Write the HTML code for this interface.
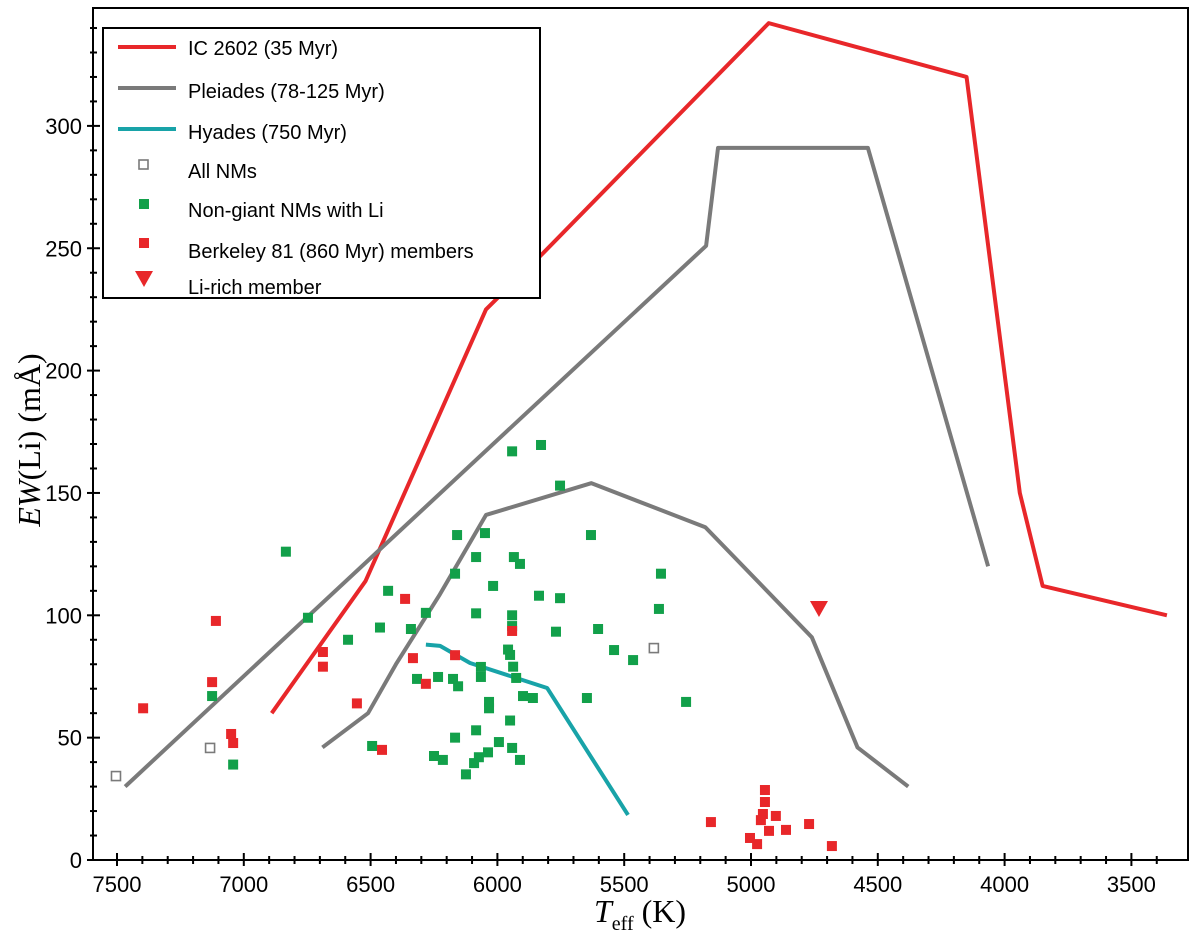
<!DOCTYPE html>
<html><head><meta charset="utf-8"><style>
body{margin:0;background:#fff}
</style></head><body>
<svg id="chart" width="1200" height="936" viewBox="0 0 1200 936" xmlns="http://www.w3.org/2000/svg" font-family="Liberation Sans, Arial, sans-serif">
<rect x="0" y="0" width="1200" height="936" fill="#fff"/>
<g id="axes"></g>
<g id="marks"></g>
<g id="legend">
<rect x="103" y="28" width="437" height="270" fill="#fff" stroke="#000" stroke-width="2"/>
<line x1="118" y1="47" x2="176" y2="47" stroke="#e8272a" stroke-width="4"/>
<text x="188" y="55" font-size="20">IC 2602 (35 Myr)</text>
<line x1="118" y1="88" x2="176" y2="88" stroke="#7a7a7a" stroke-width="4"/>
<text x="188" y="98" font-size="20">Pleiades (78-125 Myr)</text>
<line x1="118" y1="129" x2="176" y2="129" stroke="#18a3a8" stroke-width="4"/>
<text x="188" y="139" font-size="20">Hyades (750 Myr)</text>
<rect x="139" y="160" width="9" height="9" fill="none" stroke="#7a7a7a" stroke-width="1.6"/>
<text x="188" y="178" font-size="20">All NMs</text>
<rect x="139" y="199" width="10" height="10" fill="#12a04a"/>
<text x="188" y="217" font-size="20">Non-giant NMs with Li</text>
<rect x="139" y="238" width="10" height="10" fill="#e8272a"/>
<text x="188" y="258" font-size="20">Berkeley 81 (860 Myr) members</text>
<polygon points="135,271 153,271 144,287" fill="#e8272a"/>
<text x="188" y="294" font-size="20">Li-rich member</text>
</g>
</svg>
<script>
const xTicks=[7500,7000,6500,6000,5500,5000,4500,4000,3500];
const yTicks=[0,50,100,150,200,250,300];
const ic2602T=[6890,6520,6045,5820,4930,4150,3940,3850,3360];
const ic2602V=[60,114,225,248,342,320,150,112,100];
const pleiadesUpT=[7468,5177,5130,4539,4065];
const pleiadesUpV=[30,251,291,291,120];
const pleiadesLoT=[6690,6510,6400,6230,6045,5630,5180,4760,4580,4380];
const pleiadesLoV=[46,60,80,108,141,154,136,91,46,30];
const hyadesT=[6282,6226,6108,5804,5485];
const hyadesV=[88,87.5,80.5,70.3,18.4];
const allNmT=[7504,7133,5383];
const allNmV=[34.3,45.8,86.6];
const greenT=[6834,6747,7125,7042,6589,6463,6431,6494,5942,5828,5753,6159,6049,5631,6084,5935,5911,6167,5355,6017,5836,5753,5363,6282,6084,5942,5942,6341,5769,5603,5540,5465,5958,5950,5938,6065,6065,5926,6317,6234,6175,6155,5899,5860,5647,5256,6033,6033,5950,6084,6167,5994,5942,6037,6250,6215,6073,6092,5911,6124];
const greenV=[126,99,67,39,90,95,110,46.6,167,169.6,153,132.8,133.6,132.8,123.8,123.8,121,117,117,112,108,107,102.6,101,100.8,100,95.6,94.4,93.3,94.4,85.8,81.7,86,83.8,79,78.9,74.8,74.4,74,74.8,74,71,67,66.2,66.2,64.6,64.6,62,57,53,50,48.2,45.8,44,42.5,40.9,42,39.6,40.9,35];
const redT=[7397,7110,7125,7050,7042,6688,6688,6554,6455,6364,6333,6167,6282,5942,5158,4945,4945,4953,4961,4902,4929,4862,5004,4976,4771,4681];
const redV=[62,97.7,72.7,51.5,47.8,85,79,64,45,106.7,82.5,83.7,72,93.6,15.5,28.6,23.7,18.8,16.3,18,11.9,12.3,9,6.5,14.7,5.7];
const liRichT=[4732];
const liRichV=[103];

const NS="http://www.w3.org/2000/svg";
function X(t){return 117+(7500-t)*0.2536;}
function Y(v){return 860-v*2.447;}
function mk(tag,attrs,parent){const e=document.createElementNS(NS,tag);for(const k in attrs)e.setAttribute(k,attrs[k]);parent.appendChild(e);return e;}
const axes=document.getElementById('axes'),marks=document.getElementById('marks');
const frame=mk('rect',{x:93,y:8,width:1095,height:852,fill:'none',stroke:'#000','stroke-width':2},axes);


for(let t=3400;t<=7600;t+=100){const x=X(t);if(x<94||x>1187)continue;const maj=t%500===0;
 const tk=mk('line',{x1:x,y1:maj?853:856,x2:x,y2:maj?866:864,stroke:'#000','stroke-width':2},axes);
 
 }
xTicks.forEach(t=>{const l=mk('text',{x:X(t),y:892,'font-size':22,'text-anchor':'middle'},axes);l.textContent=t;
 
 });
for(let v=0;v<=340;v+=10){const y=Y(v);const maj=v%50===0;
 const tk=mk('line',{x1:maj?87:90,y1:y,x2:maj?100:97,y2:y,stroke:'#000','stroke-width':2},axes);
 
 }
yTicks.forEach(v=>{const l=mk('text',{x:82,y:Y(v)+8,'font-size':22,'text-anchor':'end'},axes);l.textContent=v;
 
 });
const xl=mk('text',{x:640,y:922,'font-size':32,'text-anchor':'middle','font-family':'Liberation Serif, serif'},axes);
xl.innerHTML='<tspan font-style="italic">T</tspan><tspan font-size="20" dy="8">eff</tspan><tspan dy="-8"> (K)</tspan>';


const yl=mk('text',{x:0,y:0,'font-size':32,'text-anchor':'middle','font-family':'Liberation Serif, serif',transform:'translate(40,440) rotate(-90)'},axes);
yl.innerHTML='<tspan font-style="italic">EW</tspan>(Li) (mÅ)';



function line(T,V,color,name){const p=mk('polyline',{points:T.map((t,i)=>X(t)+','+Y(V[i])).join(' '),fill:'none',stroke:color,'stroke-width':4,'stroke-linejoin':'round'},marks);
 
 }
line(ic2602T,ic2602V,'#e8272a','ic2602-line');
line(pleiadesUpT,pleiadesUpV,'#7a7a7a','pleiades-upper-line');
line(pleiadesLoT,pleiadesLoV,'#7a7a7a','pleiades-lower-line');
line(hyadesT,hyadesV,'#18a3a8','hyades-line');
function pts(T,V,fill,name,open){T.forEach((t,i)=>{const r=open?mk('rect',{x:X(t)-4.5,y:Y(V[i])-4.5,width:9,height:9,fill:'#fff',stroke:'#7a7a7a','stroke-width':1.6},marks):mk('rect',{x:X(t)-5,y:Y(V[i])-5,width:10,height:10,fill:fill},marks);
 
 });}
pts(allNmT,allNmV,'none','all-nm-point',true);
pts(greenT,greenV,'#12a04a','nongiant-nm-point',false);
pts(redT,redV,'#e8272a','berkeley81-point',false);
liRichT.forEach((t,i)=>{const x=X(t),y=Y(liRichV[i]);const p=mk('polygon',{points:(x-9)+','+(y-7)+' '+(x+9)+','+(y-7)+' '+x+','+(y+9),fill:'#e8272a'},marks);
 
 });
document.getElementById('chart').appendChild(document.getElementById('legend'));
</script>
</body></html>
